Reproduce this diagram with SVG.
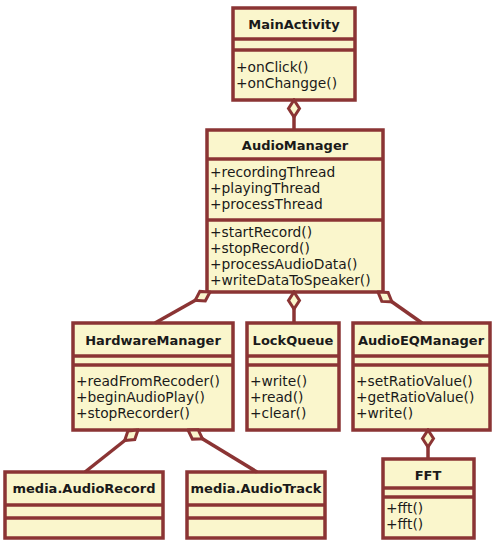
<svg xmlns="http://www.w3.org/2000/svg" width="493" height="544" viewBox="0 0 493 544">
<style>
.box{fill:#faf6cc;stroke:#8b3434;stroke-width:3.5}
.div{stroke:#8b3434;stroke-width:3.5}
.t{font-family:"DejaVu Sans",sans-serif;font-size:13px;font-weight:bold;fill:#1a1a1a;text-anchor:middle}
.m{font-family:"DejaVu Sans",sans-serif;font-size:13.8px;fill:#1a1a1a}
.c{fill:none;stroke:#8b3434;stroke-width:3.5}
</style>
<defs>
<marker id="dia" markerUnits="userSpaceOnUse" markerWidth="24" markerHeight="18" refX="0" refY="9" viewBox="-2 0 24 18" orient="auto">
<path d="M0,9 L8.5,3.5 L17,9 L8.5,14.5 Z" fill="#faf6cc" stroke="#8b3434" stroke-width="3"/>
</marker>
</defs>
<g id="MainActivity">
<rect class="box" x="233" y="8" width="122" height="92"/>
<line class="div" x1="233" y1="39" x2="355" y2="39"/>
<line class="div" x1="233" y1="50" x2="355" y2="50"/>
<text class="t" x="294" y="29">MainActivity</text>
<text class="m" x="236" y="72">+onClick()</text>
<text class="m" x="236" y="88">+onChangge()</text>
</g>
<g id="AudioManager">
<rect class="box" x="207" y="130" width="176" height="162"/>
<line class="div" x1="207" y1="159" x2="383" y2="159"/>
<line class="div" x1="207" y1="220" x2="383" y2="220"/>
<text class="t" x="295" y="150">AudioManager</text>
<text class="m" x="210" y="177">+recordingThread</text>
<text class="m" x="210" y="193">+playingThread</text>
<text class="m" x="210" y="209">+processThread</text>
<text class="m" x="210" y="237">+startRecord()</text>
<text class="m" x="210" y="253">+stopRecord()</text>
<text class="m" x="210" y="269">+processAudioData()</text>
<text class="m" x="210" y="285">+writeDataToSpeaker()</text>
</g>
<g id="HardwareManager">
<rect class="box" x="73" y="323" width="160" height="107"/>
<line class="div" x1="73" y1="356" x2="233" y2="356"/>
<line class="div" x1="73" y1="365" x2="233" y2="365"/>
<text class="t" x="153" y="345">HardwareManager</text>
<text class="m" x="76" y="386">+readFromRecoder()</text>
<text class="m" x="76" y="402">+beginAudioPlay()</text>
<text class="m" x="76" y="418">+stopRecorder()</text>
</g>
<g id="LockQueue">
<rect class="box" x="247" y="323" width="92" height="107"/>
<line class="div" x1="247" y1="356" x2="339" y2="356"/>
<line class="div" x1="247" y1="365" x2="339" y2="365"/>
<text class="t" x="293" y="345">LockQueue</text>
<text class="m" x="250" y="386">+write()</text>
<text class="m" x="250" y="402">+read()</text>
<text class="m" x="250" y="418">+clear()</text>
</g>
<g id="AudioEQManager">
<rect class="box" x="353" y="323" width="137" height="107"/>
<line class="div" x1="353" y1="356" x2="490" y2="356"/>
<line class="div" x1="353" y1="365" x2="490" y2="365"/>
<text class="t" x="421" y="345">AudioEQManager</text>
<text class="m" x="356" y="386">+setRatioValue()</text>
<text class="m" x="356" y="402">+getRatioValue()</text>
<text class="m" x="356" y="418">+write()</text>
</g>
<g id="AudioRecord">
<rect class="box" x="5" y="472" width="158" height="66"/>
<line class="div" x1="5" y1="505" x2="163" y2="505"/>
<line class="div" x1="5" y1="518" x2="163" y2="518"/>
<text class="t" x="84" y="493">media.AudioRecord</text>
</g>
<g id="AudioTrack">
<rect class="box" x="187" y="472" width="138" height="66"/>
<line class="div" x1="187" y1="505" x2="325" y2="505"/>
<line class="div" x1="187" y1="518" x2="325" y2="518"/>
<text class="t" x="256" y="493">media.AudioTrack</text>
</g>
<g id="FFT">
<rect class="box" x="383" y="459" width="91" height="79"/>
<line class="div" x1="383" y1="488" x2="474" y2="488"/>
<line class="div" x1="383" y1="497" x2="474" y2="497"/>
<text class="t" x="428" y="480">FFT</text>
<text class="m" x="386" y="513">+fft()</text>
<text class="m" x="386" y="529">+fft()</text>
</g>
<g id="connectors">
<path class="c" d="M294,100 L294,130" marker-start="url(#dia)"/>
<path class="c" d="M210,292 L155,323" marker-start="url(#dia)"/>
<path class="c" d="M294,292 L294,323" marker-start="url(#dia)"/>
<path class="c" d="M378,292 L422,323" marker-start="url(#dia)"/>
<path class="c" d="M138,430 L85,472" marker-start="url(#dia)"/>
<path class="c" d="M188,430 L257,472" marker-start="url(#dia)"/>
<path class="c" d="M428,430 L428,459" marker-start="url(#dia)"/>
</g>
</svg>
